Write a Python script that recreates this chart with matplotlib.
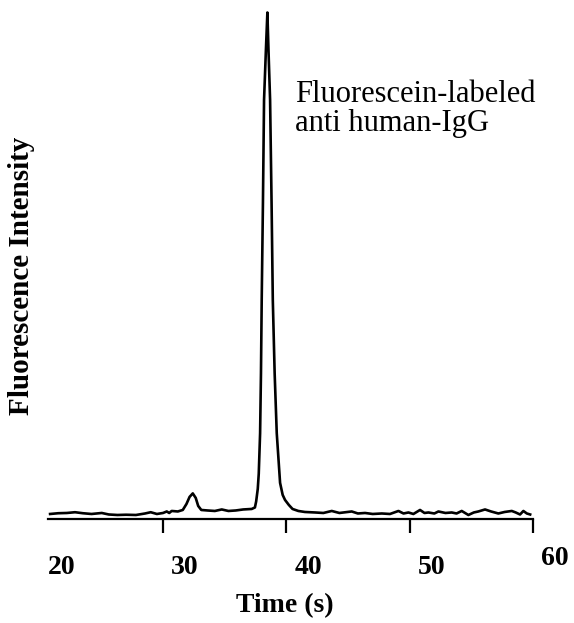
import matplotlib
matplotlib.use("Agg")
import matplotlib.pyplot as plt
import matplotlib.transforms as mtransforms

# trace: time (s) and intensity (arbitrary units, peak ~100)
time = [20.84, 21.5, 22.2, 22.86, 23.5, 24.2, 25.03, 25.6, 26.3, 27.0, 27.8,
        28.54, 29.0, 29.5, 30.0, 30.3, 30.5, 30.7, 31.2, 31.6, 31.9, 32.15,
        32.41, 32.65, 32.85, 33.1, 33.6, 34.2, 34.76, 35.3, 35.9, 36.5, 37.19,
        37.45, 37.55, 37.68, 37.76, 37.87, 37.94, 38.0, 38.1, 38.19, 38.34,
        38.46, 38.55, 38.68, 38.8, 38.9, 39.05, 39.22, 39.49, 39.7, 39.89,
        40.2, 40.5, 40.97, 41.5, 42.33, 43.0, 43.68, 44.3, 45.3, 45.8, 46.38,
        47.0, 47.74, 48.4, 49.09, 49.5, 49.9, 50.3, 50.84, 51.2, 51.52, 52.0,
        52.33, 52.9, 53.41, 53.8, 54.22, 54.76, 55.2, 55.57, 56.11, 56.6,
        57.19, 57.7, 58.28, 58.6, 58.95, 59.22, 59.5, 59.77]
intensity = [0.0, 0.15, 0.2, 0.35, 0.15, 0.0, 0.2, -0.1, -0.2, -0.15, -0.2,
             0.1, 0.35, 0.0, 0.2, 0.5, 0.2, 0.6, 0.5, 0.8, 2.0, 3.4,
             4.1, 3.2, 1.6, 0.8, 0.7, 0.6, 0.9, 0.6, 0.7, 0.9, 1.0,
             1.3, 2.5, 5.0, 8.0, 16.1, 28.0, 42.6, 62.0, 82.5, 92.4,
             99.9, 92.4, 82.5, 62.0, 42.6, 28.0, 16.1, 6.2, 3.8, 2.8,
             1.8, 1.0, 0.6, 0.4, 0.3, 0.2, 0.6, 0.2, 0.5, 0.1, 0.2,
             0.0, 0.1, 0.0, 0.6, 0.1, 0.3, 0.0, 0.8, 0.2, 0.3, 0.1,
             0.5, 0.2, 0.3, 0.1, 0.6, -0.2, 0.3, 0.5, 0.9, 0.5,
             0.1, 0.4, 0.6, 0.3, -0.1, 0.6, 0.1, -0.1]

tick_values = [30, 40, 50, 60]
tick_labels = ["20", "30", "40", "50", "60"]
tick_label_values = [20, 30, 40, 50, 60]
peak_label = "Fluorescein-labeled\nanti human-IgG"

plt.rcParams["font.family"] = "Liberation Serif"

W, H = 574, 623
fig = plt.figure(figsize=(W / 100, H / 100), dpi=100)
ax = fig.add_axes([48 / W, 1 - 518.5 / H, 485 / W, 508.5 / H])

ax.plot(time, intensity, color="black", lw=1.9, clip_on=False,
        solid_joinstyle="round")
ax.set_xlim(20.67, 60)
ax.set_ylim(-0.9, 100.4)

for s in ["top", "right", "left"]:
    ax.spines[s].set_visible(False)
ax.spines["bottom"].set_linewidth(1.6)
ax.set_yticks([])
ax.set_xticks(tick_values)
ax.set_xticklabels([])
ax.tick_params(axis="x", direction="out", length=10, width=1.6)

# the tick labels sit a little to the right of the tick marks in the original
for v, s in zip(tick_label_values, tick_labels):
    dy = -40 if s == "60" else -49
    off = mtransforms.ScaledTranslation(22 / 100, dy / 100, fig.dpi_scale_trans)
    ax.text(v, 0, s, transform=ax.get_xaxis_transform() + off,
            ha="center", va="center", fontsize=20, fontweight="bold",
            clip_on=False)

fig.text(285 / W, 1 - 606 / H, "Time (s)", ha="center", va="center",
         fontsize=20, fontweight="bold")
fig.text(22 / W, 1 - 276 / H, "Fluorescence Intensity", ha="center",
         va="center", rotation=90, fontsize=21, fontweight="bold")
fig.text(295 / W, 1 - 80 / H, peak_label, ha="left", va="top",
         fontsize=22, linespacing=1.0)

fig.savefig("out.png", dpi=100)
